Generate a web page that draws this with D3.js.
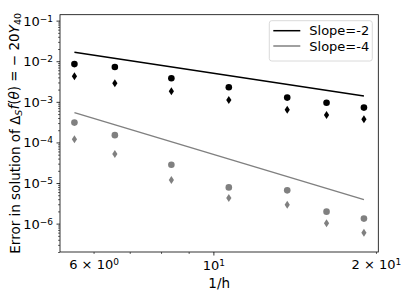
<!DOCTYPE html>
<html>
<head>
<meta charset="utf-8">
<script src="https://cdn.jsdelivr.net/npm/d3@7"></script>
<style>
  body { margin: 0; background: #fff; }
  svg { font-family: "DejaVu Sans", sans-serif; }
</style>
</head>
<body>
<div id="chart"></div>
<script>
// Data
const invH = [5.53, 6.57, 8.36, 10.68, 13.7, 16.2, 19.0];
const blackCircle  = [8.5e-3, 7.2e-3, 3.8e-3, 2.29e-3, 1.27e-3, 9.5e-4, 7.2e-4];
const blackDiamond = [4.26e-3, 2.86e-3, 1.82e-3, 1.11e-3, 6.4e-4, 4.76e-4, 3.74e-4];
const grayCircle   = [3.08e-4, 1.51e-4, 2.82e-5, 7.8e-6, 6.6e-6, 1.97e-6, 1.33e-6];
const grayDiamond  = [1.2e-4, 5.16e-5, 1.19e-5, 4.28e-6, 2.93e-6, 1.02e-6, 6.0e-7];
// reference slope lines (end points)
const slopeX = [5.53, 19.0];
const slope2 = [1.66e-2, 1.40e-3];
const slope4 = [5.43e-4, 3.9e-6];
const legendLabels = ["Slope=-2", "Slope=-4"];
const yMajor = [-6, -5, -4, -3, -2, -1];

const W = 407, H = 295;
const margin = { top: 14.7, right: 28.7, bottom: 43, left: 60 };
const width = W - margin.left - margin.right;
const height = H - margin.top - margin.bottom;
const gray = "#808080";

const svg = d3.select("#chart").append("svg")
    .attr("width", W).attr("height", H);
const g = svg.append("g").attr("transform", `translate(${margin.left},${margin.top})`);

const x = d3.scaleLog().domain([5.2, 20.2]).range([0, width]);
const y = d3.scaleLog().domain([2e-7, 0.14]).range([height, 0]);

// Slope lines
const line = d3.line().x(d => x(d[0])).y(d => y(d[1]));
g.append("path").attr("d", line(d3.zip(slopeX, slope2)))
    .attr("fill", "none").attr("stroke", "#000").attr("stroke-width", 1.5);
g.append("path").attr("d", line(d3.zip(slopeX, slope4)))
    .attr("fill", "none").attr("stroke", gray).attr("stroke-width", 1.5);

// Markers
const diamond = "M0,-4L2.6,0L0,4L-2.6,0Z";
function circles(vals, color) {
    g.append("g").selectAll("circle").data(d3.zip(invH, vals)).enter().append("circle")
        .attr("cx", d => x(d[0])).attr("cy", d => y(d[1])).attr("r", 3.3)
        .attr("fill", color);
}
function diamonds(vals, color) {
    g.append("g").selectAll("path").data(d3.zip(invH, vals)).enter().append("path")
        .attr("d", diamond)
        .attr("transform", d => `translate(${x(d[0])},${y(d[1])})`)
        .attr("fill", color);
}
circles(blackCircle, "#000");
diamonds(blackDiamond, "#000");
circles(grayCircle, gray);
diamonds(grayDiamond, gray);

// Frame
g.append("rect").attr("width", width).attr("height", height)
    .attr("fill", "none").attr("stroke", "#000").attr("stroke-width", 0.8);

// Y axis: majors with labels, minors without
const yMinor = [];
for (let e = -7; e <= -1; e++) for (let m = 2; m <= 9; m++) {
    const v = m * Math.pow(10, e);
    if (v >= 2e-7 && v <= 0.14) yMinor.push(v);
}
const yMinorAxis = g.append("g").call(d3.axisLeft(y).tickValues(yMinor).tickSize(2).tickFormat(""));
yMinorAxis.select(".domain").remove();
yMinorAxis.selectAll("line").attr("stroke-width", 0.6);

const yAxis = g.append("g").call(d3.axisLeft(y).tickValues(yMajor.map(e => Math.pow(10, e)))
    .tickSize(3.5).tickPadding(3.5).tickFormat(""));
yAxis.select(".domain").remove();
yAxis.selectAll("line").attr("stroke-width", 0.8);
yAxis.selectAll("text").each(function(d, i) {
    const t = d3.select(this).attr("font-size", 13).attr("fill", "#000")
        .attr("font-family", "DejaVu Sans").attr("dy", "0.35em");
    t.append("tspan").text("10");
    t.append("tspan").attr("dy", "-0.45em").attr("font-size", 9).text("\u2212" + (-yMajor[i]));
});

// X axis: major at 10, minor 6..9 and 20
const xMinor = [6, 7, 8, 9, 20];
const xMinorLabels = { 6: ["6 \u00d7 10", "0"], 20: ["2 \u00d7 10", "1"] };
const xMinorAxis = g.append("g").attr("transform", `translate(0,${height})`)
    .call(d3.axisBottom(x).tickValues(xMinor).tickSize(2).tickPadding(5.5).tickFormat(""));
xMinorAxis.select(".domain").remove();
xMinorAxis.selectAll("line").attr("stroke-width", 0.6);
xMinorAxis.selectAll("text").each(function(d) {
    const lab = xMinorLabels[d];
    if (!lab) return;
    const t = d3.select(this).attr("font-size", 13).attr("fill", "#000").attr("font-family", "DejaVu Sans");
    t.append("tspan").text(lab[0]);
    t.append("tspan").attr("dy", "-0.45em").attr("font-size", 9).text(lab[1]);
});

const xAxis = g.append("g").attr("transform", `translate(0,${height})`)
    .call(d3.axisBottom(x).tickValues([10]).tickSize(3.5).tickPadding(5.5).tickFormat(""));
xAxis.select(".domain").remove();
xAxis.selectAll("line").attr("stroke-width", 0.8);
xAxis.selectAll("text").each(function() {
    const t = d3.select(this).attr("font-size", 13).attr("fill", "#000").attr("font-family", "DejaVu Sans");
    t.append("tspan").text("10");
    t.append("tspan").attr("dy", "-0.45em").attr("font-size", 9).text("1");
});

// Axis labels
g.append("text").attr("x", width / 2).attr("y", height + 36)
    .attr("text-anchor", "middle").attr("font-size", 13.5).text("1/h");

const yl = g.append("text")
    .attr("transform", `translate(${20 - margin.left},${height / 2}) rotate(-90)`)
    .attr("text-anchor", "middle").attr("font-size", 13.5);
yl.append("tspan").text("Error in solution of \u0394");
yl.append("tspan").attr("font-style", "italic").attr("font-size", 9.5).attr("dy", "0.25em").text("S");
yl.append("tspan").attr("font-style", "italic").attr("dy", "-0.25em").text("f");
yl.append("tspan").text("(");
yl.append("tspan").attr("font-style", "italic").text("\u03b8");
yl.append("tspan").text(") = \u2212 20");
yl.append("tspan").attr("font-style", "italic").text("Y");
yl.append("tspan").attr("font-size", 9.5).attr("dy", "0.25em").text("40");

// Legend
const lg = g.append("g").attr("transform", `translate(${269.3 - margin.left},${20.7 - margin.top})`);
lg.append("rect").attr("width", 103).attr("height", 40.3).attr("rx", 2.5)
    .attr("fill", "#fff").attr("fill-opacity", 0.8)
    .attr("stroke", "#d0d0d0").attr("stroke-width", 0.8);
const legendColors = ["#000", gray];
legendLabels.forEach((lab, i) => {
    const yy = 10 + i * 15.3;
    lg.append("line").attr("x1", 4).attr("x2", 31).attr("y1", yy).attr("y2", yy)
        .attr("stroke", legendColors[i]).attr("stroke-width", 1.5);
    lg.append("text").attr("x", 40).attr("y", yy).attr("dy", "0.35em")
        .attr("font-size", 13).text(lab);
});
</script>
</body>
</html>
